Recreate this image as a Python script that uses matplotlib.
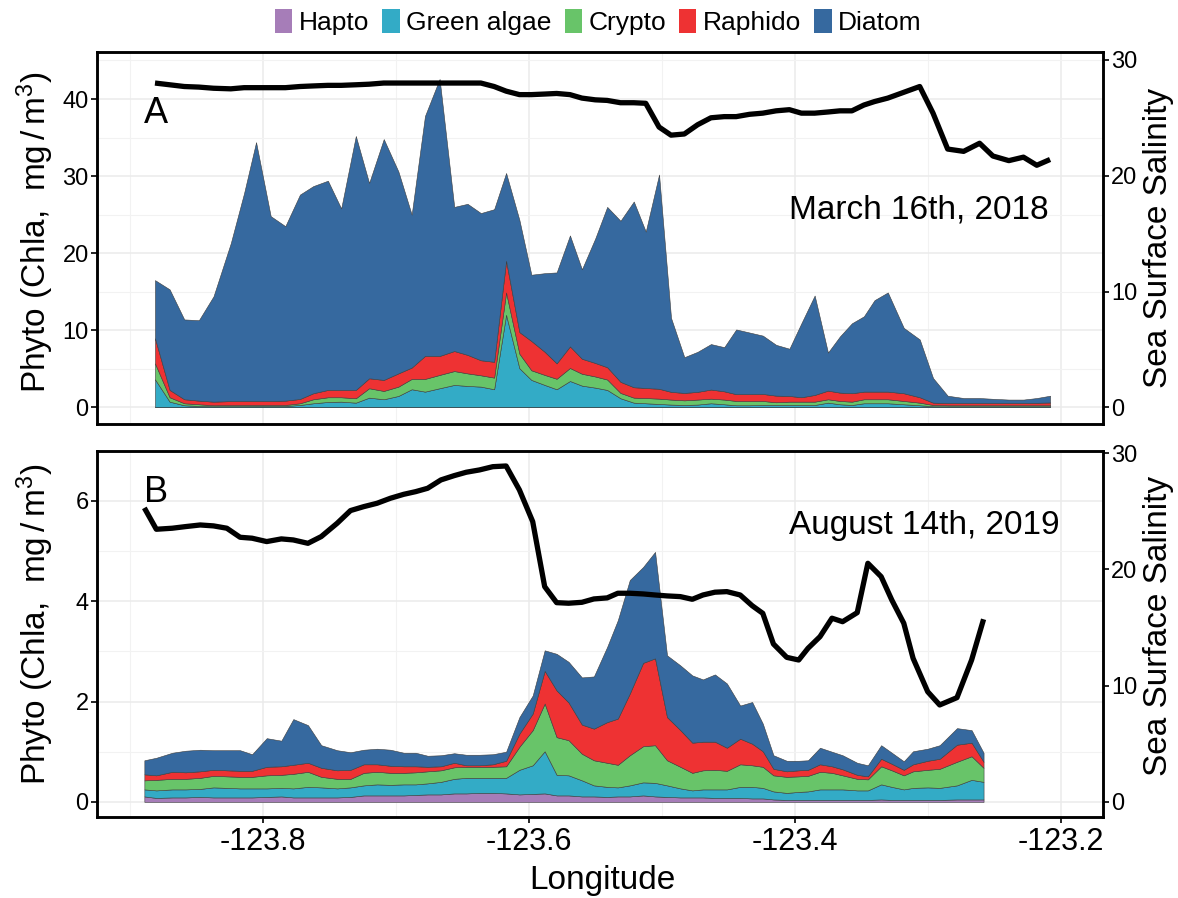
import matplotlib
matplotlib.use('Agg')
import matplotlib.pyplot as plt
from matplotlib.patches import Patch

plt.rcParams['font.family'] = ['Liberation Sans', 'DejaVu Sans']
plt.rcParams['mathtext.default'] = 'regular'
plt.rcParams['axes.unicode_minus'] = False

species = ['Hapto', 'Green algae', 'Crypto', 'Raphido', 'Diatom']
colors = ['#a67db8', '#33abc6', '#68c469', '#ee3233', '#36699f']

# March 16th, 2018 transect
lon_a = [-123.881, -123.870, -123.859, -123.848, -123.837, -123.824, -123.814, -123.805, -123.794, -123.783,
         -123.772, -123.762, -123.751, -123.741, -123.730, -123.720, -123.709, -123.698, -123.688, -123.678,
         -123.667, -123.656, -123.646, -123.636, -123.626, -123.617, -123.607, -123.598, -123.588, -123.579,
         -123.569, -123.560, -123.550, -123.541, -123.531, -123.521, -123.512, -123.502, -123.493, -123.483,
         -123.473, -123.463, -123.453, -123.444, -123.434, -123.424, -123.414, -123.404, -123.395, -123.385,
         -123.375, -123.366, -123.357, -123.348, -123.340, -123.330, -123.318, -123.306, -123.296, -123.285,
         -123.273, -123.261, -123.251, -123.239, -123.228, -123.218, -123.208]
hapto_a = [0.03, 0.03, 0.03, 0.03, 0.03, 0.03, 0.03, 0.03, 0.03, 0.03,
           0.03, 0.03, 0.03, 0.03, 0.03, 0.03, 0.03, 0.03, 0.03, 0.03,
           0.03, 0.03, 0.03, 0.03, 0.03, 0.03, 0.03, 0.03, 0.03, 0.03,
           0.03, 0.03, 0.03, 0.03, 0.03, 0.03, 0.03, 0.03, 0.03, 0.03,
           0.03, 0.03, 0.03, 0.03, 0.03, 0.03, 0.03, 0.03, 0.03, 0.03,
           0.03, 0.03, 0.03, 0.03, 0.03, 0.03, 0.03, 0.03, 0.03, 0.03,
           0.03, 0.03, 0.03, 0.03, 0.03, 0.03, 0.03]
green_a = [3.60, 0.70, 0.23, 0.14, 0.10, 0.12, 0.12, 0.14, 0.14, 0.14,
           0.27, 0.49, 0.66, 0.70, 0.57, 1.22, 1.01, 1.44, 2.31, 2.00,
           2.44, 2.87, 2.74, 2.65, 2.31, 11.97, 5.03, 3.52, 2.87, 2.31,
           3.38, 2.78, 2.52, 2.22, 1.14, 0.57, 0.49, 0.40, 0.32, 0.27,
           0.32, 0.49, 0.36, 0.23, 0.23, 0.27, 0.27, 0.27, 0.27, 0.27,
           0.57, 0.36, 0.27, 0.49, 0.49, 0.49, 0.36, 0.23, 0.10, 0.10,
           0.10, 0.10, 0.10, 0.10, 0.10, 0.10, 0.10]
crypto_a = [2.07, 0.57, 0.26, 0.22, 0.13, 0.13, 0.15, 0.13, 0.13, 0.13,
            0.22, 0.52, 0.61, 0.57, 0.57, 1.22, 1.08, 1.21, 1.34, 1.65,
            1.73, 1.80, 1.63, 1.47, 1.51, 2.90, 1.89, 1.25, 1.30, 1.36,
            1.69, 1.54, 1.45, 1.35, 0.69, 0.65, 0.68, 0.69, 0.65, 0.60,
            0.65, 0.60, 0.61, 0.56, 0.54, 0.52, 0.35, 0.43, 0.43, 0.43,
            0.44, 0.43, 0.43, 0.52, 0.52, 0.52, 0.43, 0.34, 0.17, 0.13,
            0.13, 0.13, 0.13, 0.13, 0.13, 0.13, 0.13]
raphido_a = [3.26, 0.95, 0.52, 0.47, 0.47, 0.52, 0.52, 0.52, 0.52, 0.56,
             0.56, 0.78, 0.95, 0.95, 1.08, 1.29, 1.43, 1.72, 1.47, 2.98,
             2.46, 2.60, 2.40, 1.95, 2.05, 4.10, 2.80, 3.80, 3.00, 2.00,
             2.80, 1.95, 1.75, 1.60, 1.44, 1.35, 1.30, 1.28, 1.00, 0.96,
             1.00, 1.18, 1.07, 0.88, 0.90, 0.91, 0.86, 0.74, 0.57, 0.87,
             1.12, 1.08, 1.09, 0.99, 0.99, 0.99, 1.00, 0.70, 0.30, 0.29,
             0.29, 0.29, 0.29, 0.29, 0.29, 0.32, 0.36]
diatom_a = [7.54, 13.05, 10.36, 10.44, 13.67, 20.50, 26.98, 33.58, 23.98, 22.64,
            26.52, 26.88, 27.15, 23.55, 32.95, 25.34, 31.25, 26.20, 19.85, 31.14,
            35.94, 18.70, 19.60, 19.10, 19.80, 11.40, 14.55, 8.60, 10.20, 11.80,
            14.40, 11.60, 16.15, 20.80, 20.90, 24.10, 20.30, 27.80, 9.60, 4.64,
            5.20, 5.90, 5.73, 8.40, 8.00, 7.57, 6.59, 6.13, 9.60, 12.90,
            4.94, 7.30, 9.08, 9.77, 11.87, 12.87, 8.48, 7.50, 3.20, 0.95,
            0.65, 0.65, 0.55, 0.45, 0.45, 0.62, 0.88]
sal_a = [28.0, 27.85, 27.7, 27.65, 27.55, 27.5, 27.6, 27.6, 27.6, 27.6,
         27.7, 27.75, 27.8, 27.8, 27.85, 27.9, 28.0, 28.0, 28.0, 28.0,
         28.0, 28.0, 28.0, 28.0, 27.7, 27.3, 27.0, 27.0, 27.05, 27.1,
         27.0, 26.7, 26.55, 26.5, 26.3, 26.3, 26.25, 24.2, 23.5, 23.6,
         24.4, 25.0, 25.1, 25.1, 25.3, 25.4, 25.6, 25.7, 25.4, 25.4,
         25.5, 25.6, 25.6, 26.1, 26.4, 26.7, 27.2, 27.7, 25.4, 22.3,
         22.1, 22.8, 21.7, 21.3, 21.6, 20.9, 21.4]

# August 14th, 2019 transect
lon_b = [-123.889, -123.880, -123.868, -123.858, -123.847, -123.837, -123.827, -123.817, -123.808, -123.797,
         -123.786, -123.777, -123.766, -123.756, -123.744, -123.734, -123.724, -123.714, -123.704, -123.694,
         -123.685, -123.676, -123.666, -123.656, -123.647, -123.637, -123.627, -123.617, -123.607, -123.597,
         -123.588, -123.579, -123.570, -123.560, -123.551, -123.541, -123.533, -123.524, -123.514, -123.505,
         -123.496, -123.486, -123.477, -123.469, -123.460, -123.451, -123.441, -123.432, -123.424, -123.416,
         -123.406, -123.397, -123.390, -123.381, -123.372, -123.364, -123.353, -123.345, -123.335, -123.327,
         -123.318, -123.311, -123.300, -123.291, -123.278, -123.267, -123.258]
hapto_b = [0.11, 0.08, 0.09, 0.09, 0.10, 0.09, 0.09, 0.09, 0.09, 0.10,
           0.11, 0.09, 0.09, 0.09, 0.09, 0.10, 0.13, 0.13, 0.13, 0.13,
           0.14, 0.15, 0.15, 0.17, 0.17, 0.18, 0.18, 0.17, 0.15, 0.16,
           0.17, 0.13, 0.13, 0.11, 0.11, 0.10, 0.11, 0.11, 0.13, 0.11,
           0.10, 0.09, 0.09, 0.09, 0.08, 0.08, 0.08, 0.07, 0.07, 0.05,
           0.04, 0.04, 0.04, 0.04, 0.04, 0.04, 0.04, 0.04, 0.05, 0.04,
           0.04, 0.04, 0.04, 0.04, 0.05, 0.05, 0.05]
green_b = [0.14, 0.15, 0.16, 0.16, 0.16, 0.20, 0.19, 0.18, 0.18, 0.17,
           0.17, 0.18, 0.21, 0.20, 0.18, 0.19, 0.20, 0.22, 0.21, 0.22,
           0.21, 0.22, 0.25, 0.29, 0.31, 0.30, 0.30, 0.31, 0.49, 0.57,
           0.84, 0.41, 0.40, 0.32, 0.22, 0.20, 0.18, 0.22, 0.26, 0.27,
           0.23, 0.18, 0.14, 0.16, 0.17, 0.17, 0.22, 0.23, 0.21, 0.16,
           0.14, 0.16, 0.17, 0.21, 0.21, 0.21, 0.19, 0.19, 0.30, 0.26,
           0.21, 0.24, 0.25, 0.24, 0.28, 0.39, 0.35]
crypto_b = [0.18, 0.21, 0.21, 0.21, 0.22, 0.23, 0.23, 0.23, 0.23, 0.26,
            0.26, 0.29, 0.30, 0.21, 0.19, 0.17, 0.25, 0.25, 0.24, 0.23,
            0.24, 0.24, 0.23, 0.23, 0.22, 0.22, 0.22, 0.23, 0.46, 0.70,
            0.95, 0.75, 0.70, 0.53, 0.50, 0.48, 0.45, 0.60, 0.72, 0.75,
            0.50, 0.43, 0.35, 0.38, 0.39, 0.37, 0.45, 0.43, 0.42, 0.32,
            0.32, 0.31, 0.31, 0.35, 0.33, 0.28, 0.23, 0.22, 0.36, 0.33,
            0.28, 0.33, 0.35, 0.38, 0.47, 0.47, 0.28]
raphido_b = [0.12, 0.09, 0.14, 0.13, 0.13, 0.12, 0.12, 0.12, 0.12, 0.17,
             0.17, 0.18, 0.18, 0.18, 0.17, 0.18, 0.17, 0.15, 0.14, 0.13,
             0.12, 0.09, 0.08, 0.09, 0.03, 0.03, 0.05, 0.11, 0.26, 0.33,
             0.65, 0.93, 0.75, 0.58, 0.63, 0.81, 0.92, 1.23, 1.66, 1.73,
             0.86, 0.73, 0.60, 0.57, 0.56, 0.46, 0.51, 0.43, 0.31, 0.13,
             0.11, 0.12, 0.12, 0.15, 0.13, 0.12, 0.08, 0.06, 0.15, 0.13,
             0.11, 0.14, 0.18, 0.20, 0.34, 0.27, 0.12]
diatom_b = [0.28, 0.35, 0.38, 0.43, 0.43, 0.39, 0.40, 0.41, 0.33, 0.57,
            0.51, 0.91, 0.75, 0.45, 0.40, 0.35, 0.29, 0.31, 0.32, 0.27,
            0.27, 0.22, 0.22, 0.19, 0.21, 0.21, 0.20, 0.18, 0.33, 0.36,
            0.41, 0.73, 0.81, 0.94, 1.04, 1.50, 1.96, 2.26, 1.91, 2.12,
            1.23, 1.29, 1.34, 1.24, 1.34, 1.28, 0.66, 0.83, 0.55, 0.27,
            0.21, 0.19, 0.19, 0.33, 0.29, 0.28, 0.24, 0.22, 0.27, 0.22,
            0.17, 0.26, 0.24, 0.27, 0.33, 0.25, 0.18]
sal_b = [25.3, 23.46, 23.55, 23.69, 23.83, 23.75, 23.55, 22.77, 22.69, 22.4,
         22.63, 22.54, 22.25, 22.83, 23.98, 25.07, 25.41, 25.7, 26.13, 26.47,
         26.7, 26.99, 27.71, 28.08, 28.37, 28.57, 28.85, 28.91, 26.85, 24.12,
         18.52, 17.14, 17.09, 17.17, 17.46, 17.55, 17.95, 17.95, 17.89, 17.8,
         17.72, 17.66, 17.43, 17.8, 18.04, 18.09, 17.8, 16.88, 16.22, 13.58,
         12.43, 12.2, 13.21, 14.21, 15.8, 15.5, 16.28, 20.53, 19.38, 17.37,
         15.37, 12.35, 9.47, 8.33, 8.96, 12.2, 15.71]

x_major = [-123.8, -123.6, -123.4, -123.2]
x_minor = [-123.9, -123.7, -123.5, -123.3]
xlim = (-123.9246, -123.1682)

fig = plt.figure(figsize=(11.78, 8.98), dpi=100)
W, H = 1178, 898
ax_a = fig.add_axes([97 / W, 1 - 424 / H, 1006 / W, 372 / H])
ax_b = fig.add_axes([97 / W, 1 - 817 / H, 1006 / W, 366 / H])


def draw_panel(ax, lon, layers, sal, ylim, yticks, yminor, sal_lim, letter, letter_y, date, date_y, show_x):
    ax.stackplot(lon, *layers, colors=colors, edgecolor='#3c3c3c', linewidth=0.4)
    ax.set_xlim(*xlim)
    ax.set_ylim(*ylim)
    ax.set_xticks(x_major)
    ax.set_xticks(x_minor, minor=True)
    ax.set_yticks(yticks)
    ax.set_yticks(yminor, minor=True)
    ax.grid(which='major', color='#ebebeb', lw=1.1)
    ax.grid(which='minor', color='#f2f2f2', lw=0.8)
    ax.set_axisbelow(True)
    ax.tick_params(which='minor', length=0)
    ax.tick_params(axis='y', labelsize=17, length=4, width=1.2, pad=2, colors='black')
    if show_x:
        ax.set_xticklabels(['-123.8', '-123.6', '-123.4', '-123.2'])
        ax.tick_params(axis='x', labelsize=22, length=4, width=1.2, pad=3)
    else:
        ax.tick_params(axis='x', length=0, labelbottom=False)
    for s in ax.spines.values():
        s.set_linewidth(1.8)
    ax.text(letter_x, letter_y, letter, fontsize=26, ha='left', va='center')
    ax.text(-123.404, date_y, date, fontsize=24, ha='left', va='center')

    axr = ax.twinx()
    axr.plot(lon, sal, color='black', lw=3.8, solid_joinstyle='round', solid_capstyle='butt')
    axr.set_ylim(*sal_lim)
    axr.set_yticks([0, 10, 20, 30])
    axr.tick_params(axis='y', labelsize=17, length=4, width=1.2, pad=2)
    for s in axr.spines.values():
        s.set_linewidth(1.8)
    return axr


letter_x = -123.889
draw_panel(ax_a, lon_a, [hapto_a, green_a, crypto_a, raphido_a, diatom_a], sal_a,
           (-2.17, 46.1), [0, 10, 20, 30, 40], [5, 15, 25, 35, 45], (-1.44, 30.68),
           'A', 38.1, 'March 16th, 2018', 25.6, False)
draw_panel(ax_b, lon_b, [hapto_b, green_b, crypto_b, raphido_b, diatom_b], sal_b,
           (-0.30, 6.99), [0, 2, 4, 6], [1, 3, 5], (-1.32, 30.2),
           'B', 6.17, 'August 14th, 2019', 5.51, True)

ylab = 'Phyto (Chla,  mg$\\,/\\,$m$^{3}$)'
fig.text(35 / W, 1 - 232 / H, ylab, rotation=90, ha='center', va='center', fontsize=24)
fig.text(35 / W, 1 - 624 / H, ylab, rotation=90, ha='center', va='center', fontsize=24)
fig.text(1158 / W, 1 - 238 / H, 'Sea Surface Salinity', rotation=90, ha='center', va='center', fontsize=24)
fig.text(1158 / W, 1 - 626 / H, 'Sea Surface Salinity', rotation=90, ha='center', va='center', fontsize=24)
fig.text(602 / W, 1 - 880 / H, 'Longitude', ha='center', va='center', fontsize=24)

handles = [Patch(facecolor=c, edgecolor='none', label=s) for s, c in zip(species, colors)]
fig.legend(handles=handles, loc='center', bbox_to_anchor=(0.508, 1 - 22 / H), ncol=5, frameon=False,
           fontsize=19, handlelength=0.65, handleheight=1.0, handletextpad=0.25, columnspacing=0.5)

fig.savefig('out.png', dpi=100)
